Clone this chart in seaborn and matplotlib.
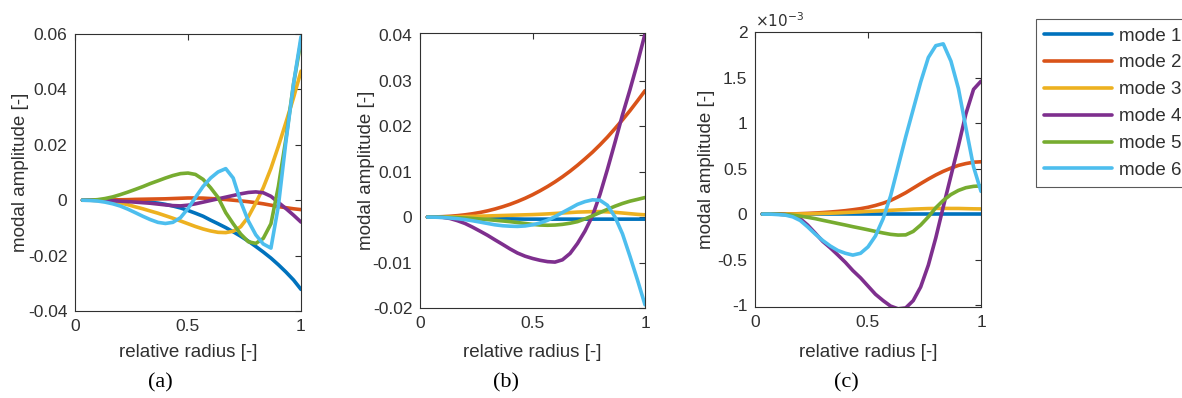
import numpy as np
import pandas as pd
import matplotlib
matplotlib.use("Agg")
import matplotlib.pyplot as plt
import seaborn as sns

# ---------------- data ----------------
radius = [0.033, 0.067, 0.1, 0.133, 0.167, 0.2, 0.233, 0.267, 0.3, 0.333,
          0.367, 0.4, 0.433, 0.467, 0.5, 0.533, 0.567, 0.6, 0.633, 0.667,
          0.7, 0.733, 0.767, 0.8, 0.833, 0.867, 0.9, 0.933, 0.967, 1.0]

modes = ["mode 1", "mode 2", "mode 3", "mode 4", "mode 5", "mode 6"]
colors = ["#0072BD", "#D95319", "#EDB120", "#7E2F8E", "#77AC30", "#4DBEEE"]

# panel (a), values in units of 1e-3
a_mode1 = [0, 0, 0, 0, -0.05, -0.1, -0.2, -0.35, -0.5, -0.75, -1.05, -1.5, -2.1, -2.8, -3.7,
           -4.7, -5.8, -7.2, -8.5, -9.9, -11.4, -13.0, -14.8, -16.7, -18.7, -20.9, -23.3, -25.9, -28.8, -32.2]
a_mode2 = [0, 0, 0, 0.05, 0.1, 0.15, 0.2, 0.3, 0.35, 0.4, 0.45, 0.5, 0.6, 0.7, 0.8,
           0.8, 0.75, 0.6, 0.45, 0.25, 0.0, -0.25, -0.55, -0.9, -1.3, -1.8, -2.3, -2.7, -3.1, -3.4]
a_mode3 = [0, 0, -0.1, -0.3, -0.6, -1.0, -1.6, -2.4, -3.1, -3.9, -4.7, -5.6, -6.5, -7.5, -8.5,
           -9.5, -10.4, -11.1, -11.6, -11.7, -11.2, -9.6, -6.0, -1.0, 4.5, 11.5, 19.5, 28.0, 37.0, 46.6]
a_mode4 = [0, 0, -0.05, -0.1, -0.2, -0.35, -0.5, -0.7, -0.9, -1.1, -1.4, -1.7, -1.95, -2.05, -1.8,
           -1.3, -0.7, -0.1, 0.5, 1.1, 1.7, 2.3, 2.8, 3.0, 2.7, 1.4, -0.8, -3.0, -5.4, -7.9]
a_mode5 = [0, 0, 0.2, 0.6, 1.2, 2.0, 2.9, 3.9, 4.9, 6.0, 7.0, 8.0, 8.9, 9.6, 9.8,
           9.3, 7.5, 4.5, 1.0, -4.5, -8.5, -12.2, -15.0, -15.6, -13.8, -8.5, 5.0, 22.0, 42.0, 57.5]
a_mode6 = [0, -0.1, -0.3, -0.7, -1.3, -2.1, -3.2, -4.5, -5.8, -7.0, -8.0, -8.4, -8.0, -6.3, -3.0,
           1.0, 5.0, 8.0, 10.2, 11.4, 8.0, -0.5, -7.5, -12.5, -15.8, -17.3, -2.0, 21.0, 42.0, 59.0]

# panel (b), values in units of 1e-3
b_mode1 = [0, 0, 0, -0.02, -0.05, -0.1, -0.15, -0.2, -0.25, -0.3, -0.35, -0.4, -0.42, -0.45, -0.45,
           -0.45, -0.45, -0.45, -0.45, -0.45, -0.45, -0.45, -0.45, -0.45, -0.45, -0.45, -0.45, -0.45, -0.45, -0.45]
b_mode2 = [0.01, 0.03, 0.09, 0.18, 0.32, 0.5, 0.73, 1.02, 1.37, 1.78, 2.27, 2.81, 3.43, 4.14, 4.91,
           5.77, 6.73, 7.75, 8.86, 10.1, 11.4, 12.8, 14.3, 15.9, 17.6, 19.5, 21.4, 23.4, 25.6, 27.8]
b_mode3 = [0, 0, 0.02, 0.05, 0.08, 0.12, 0.16, 0.2, 0.25, 0.3, 0.35, 0.4, 0.45, 0.5, 0.55,
           0.62, 0.7, 0.8, 0.9, 1.0, 1.1, 1.15, 1.2, 1.2, 1.15, 1.05, 0.9, 0.75, 0.6, 0.5]
b_mode4 = [0, 0, -0.05, -0.3, -0.8, -1.4, -2.2, -3.1, -4.0, -5.0, -6.0, -7.0, -7.9, -8.6, -9.1,
           -9.5, -9.8, -9.9, -9.4, -8.0, -5.8, -3.1, 0.3, 5.0, 10.5, 16.5, 22.5, 28.0, 34.0, 40.3]
b_mode5 = [0, 0, -0.02, -0.06, -0.12, -0.2, -0.3, -0.42, -0.55, -0.7, -0.85, -1.0, -1.2, -1.4, -1.6,
           -1.75, -1.8, -1.75, -1.6, -1.35, -1.0, -0.4, 0.3, 1.0, 1.7, 2.4, 3.0, 3.5, 3.9, 4.3]
b_mode6 = [0, -0.02, -0.08, -0.2, -0.35, -0.55, -0.8, -1.1, -1.4, -1.7, -1.9, -2.0, -2.05, -1.95, -1.7,
           -1.3, -0.7, 0.1, 1.0, 1.9, 2.8, 3.4, 3.8, 3.7, 2.6, 0.0, -3.7, -8.6, -13.9, -19.3]

# panel (c), values in units of 1e-3 (axis shows x10^-3)
c_mode1 = [0, 0, 0, 0, 0, 0, 0, 0, 0, 0, 0, 0, 0, 0, 0,
           0, 0, 0, 0, 0, 0, 0, 0, 0, 0, 0, 0, 0, 0, 0]
c_mode2 = [0, 0, 0, 0, 0.002, 0.005, 0.008, 0.012, 0.017, 0.023, 0.03, 0.038, 0.048, 0.06, 0.075,
           0.095, 0.12, 0.15, 0.19, 0.235, 0.285, 0.335, 0.385, 0.43, 0.47, 0.505, 0.535, 0.555, 0.57, 0.575]
c_mode3 = [0, 0, 0, 0, 0.001, 0.002, 0.003, 0.005, 0.008, 0.01, 0.013, 0.017, 0.021, 0.025, 0.03,
           0.034, 0.038, 0.042, 0.046, 0.05, 0.055, 0.058, 0.061, 0.062, 0.063, 0.062, 0.062, 0.06, 0.058, 0.057]
c_mode4 = [0, 0, 0, -0.005, -0.02, -0.05, -0.12, -0.21, -0.3, -0.37, -0.45, -0.53, -0.62, -0.7, -0.79,
           -0.88, -0.95, -1.01, -1.04, -1.03, -0.95, -0.8, -0.56, -0.26, 0.08, 0.42, 0.75, 1.1, 1.37, 1.46]
c_mode5 = [0, 0, 0, -0.005, -0.012, -0.022, -0.035, -0.05, -0.068, -0.085, -0.103, -0.12, -0.138, -0.155, -0.172,
           -0.19, -0.207, -0.222, -0.23, -0.228, -0.19, -0.12, -0.03, 0.07, 0.15, 0.215, 0.26, 0.29, 0.305, 0.31]
c_mode6 = [0, 0, -0.005, -0.01, -0.03, -0.07, -0.14, -0.22, -0.29, -0.35, -0.4, -0.43, -0.45, -0.43, -0.36,
           -0.24, -0.05, 0.2, 0.52, 0.85, 1.15, 1.45, 1.72, 1.85, 1.87, 1.68, 1.38, 0.95, 0.52, 0.25]

x_ticks = [0, 0.5, 1]
x_ticklabels = ["0", "0.5", "1"]
a_yticks = [-0.04, -0.02, 0, 0.02, 0.04, 0.06]
a_yticklabels = ["-0.04", "-0.02", "0", "0.02", "0.04", "0.06"]
b_yticks = [-0.02, -0.01, 0, 0.01, 0.02, 0.03, 0.04]
b_yticklabels = ["-0.02", "-0.01", "0", "0.01", "0.02", "0.03", "0.04"]
c_yticks = [-1, -0.5, 0, 0.5, 1, 1.5, 2]
c_yticklabels = ["-1", "-0.5", "0", "0.5", "1", "1.5", "2"]
captions = ["(a)", "(b)", "(c)"]
x_label = "relative radius [-]"
y_label = "modal amplitude [-]"

# ---------------- styling ----------------
sns.set_theme(style="white")
plt.rcParams["font.family"] = ["Liberation Sans", "DejaVu Sans"]
INK = "#303030"

W, H = 1182, 398
fig = plt.figure(figsize=(W / 100, H / 100), dpi=100)

panels = [
    dict(series=[a_mode1, a_mode2, a_mode3, a_mode4, a_mode5, a_mode6], scale=1e-3,
         box=(75, 34, 301, 311), ylim=(-0.04, 0.06), yticks=a_yticks, ylabels=a_yticklabels,
         ylab_x=-0.204, cap_x=160),
    dict(series=[b_mode1, b_mode2, b_mode3, b_mode4, b_mode5, b_mode6], scale=1e-3,
         box=(420, 33, 645, 308), ylim=(-0.02, 0.0405), yticks=b_yticks, ylabels=b_yticklabels,
         ylab_x=-0.20, cap_x=506),
    dict(series=[c_mode1, c_mode2, c_mode3, c_mode4, c_mode5, c_mode6], scale=1.0,
         box=(755, 32, 981, 307), ylim=(-1.02, 2.0), yticks=c_yticks, ylabels=c_yticklabels,
         ylab_x=-0.177, cap_x=846),
]

handles = None
for i, p in enumerate(panels):
    l, t, r, b = p["box"]
    ax = fig.add_axes([l / W, (H - b) / H, (r - l) / W, (b - t) / H])
    df = pd.DataFrame({
        "radius": np.tile(radius, len(modes)),
        "amp": np.concatenate([np.asarray(s, dtype=float) * p["scale"] for s in p["series"]]),
        "mode": np.repeat(modes, len(radius)),
    })
    sns.lineplot(data=df, x="radius", y="amp", hue="mode", hue_order=modes,
                 palette=colors, linewidth=2.6, estimator=None, sort=False,
                 legend=(i == 0), ax=ax)
    if i == 0:
        handles, _ = ax.get_legend_handles_labels()
        ax.get_legend().remove()
    ax.set_xlim(0, 1)
    ax.set_ylim(*p["ylim"])
    ax.set_xticks(x_ticks)
    ax.set_xticklabels(x_ticklabels)
    ax.set_yticks(p["yticks"])
    ax.set_yticklabels(p["ylabels"])
    ax.tick_params(direction="in", top=True, right=True, length=4, width=0.8,
                   labelsize=12.5, colors=INK, pad=5.5)
    for sp in ax.spines.values():
        sp.set_color(INK)
        sp.set_linewidth(0.8)
    ax.set_xlabel(x_label, fontsize=13.5, color=INK)
    ax.set_ylabel(y_label, fontsize=13.5, color=INK)
    ax.yaxis.set_label_coords(p["ylab_x"], 0.5)
    ax.xaxis.set_label_coords(0.5, -(344 - b) / (b - t))
    fig.text(p["cap_x"] / W, 1 - 383 / H, captions[i], family=["Liberation Serif", "DejaVu Serif"],
             fontsize=16, ha="center", va="center", color="black")
    if i == 2:
        ax.text(0.0, 1.008, r"$\times10^{-3}$", transform=ax.transAxes, ha="left",
                va="bottom", fontsize=11, color=INK)

leg = fig.legend(handles, modes, loc="upper left", bbox_to_anchor=(1036 / W, 1 - 19 / H),
                 fontsize=13.5, frameon=True, fancybox=False, edgecolor=INK,
                 handlelength=3.6, handletextpad=0.4, labelspacing=0.52,
                 borderpad=0.45, borderaxespad=0)
leg.get_frame().set_linewidth(0.8)
for txt in leg.get_texts():
    txt.set_color(INK)

fig.savefig("out.png", dpi=100)
